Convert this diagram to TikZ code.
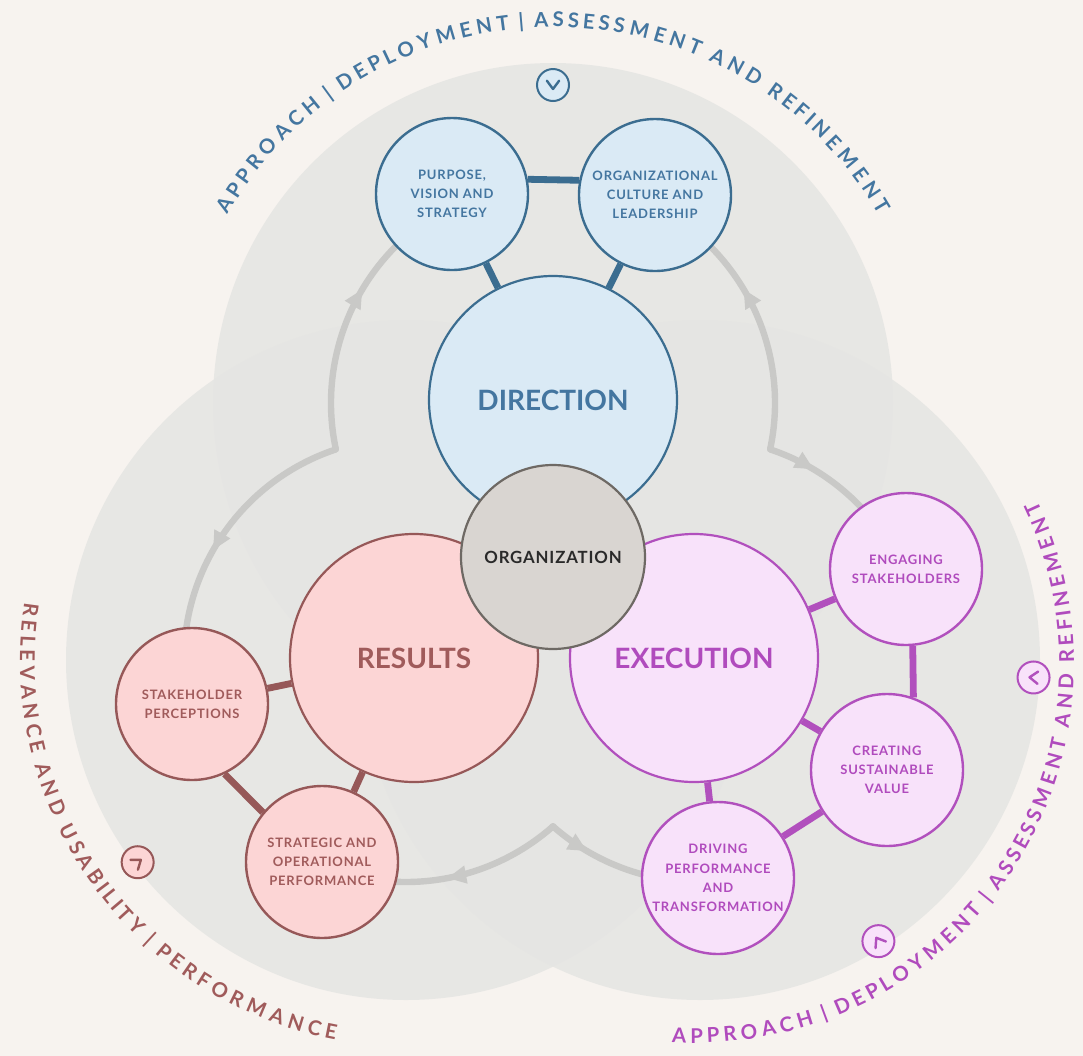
\documentclass[tikz,border=0pt]{standalone}
\usepackage{fontspec}
\setmainfont{Lato}
\usetikzlibrary{positioning,calc,arrows.meta}
\usetikzlibrary{decorations.text,decorations.markings}

\definecolor{paper}{HTML}{F7F3EF}
\definecolor{venngray}{HTML}{E5E5E3}
\definecolor{flowgray}{HTML}{C9C9C7}
\definecolor{dirline}{HTML}{3B6D90}
\definecolor{dirtext}{HTML}{4476A0}
\definecolor{dirfill}{HTML}{DAEAF5}
\definecolor{resline}{HTML}{965858}
\definecolor{restext}{HTML}{A05B5B}
\definecolor{resfill}{HTML}{FCD5D5}
\definecolor{exeline}{HTML}{B150BD}
\definecolor{exetext}{HTML}{B04BBD}
\definecolor{exefill}{HTML}{F8E2FA}
\definecolor{orgline}{HTML}{6E6964}
\definecolor{orgfill}{HTML}{D9D5D1}
\definecolor{orgtext}{HTML}{2A2A2A}

\newcommand{\bigfont}{\fontsize{14}{16}\selectfont\bfseries}
\newcommand{\orgfont}{\fontsize{8.4}{10}\selectfont\bfseries\addfontfeatures{LetterSpace=5}}
\newcommand{\subfont}{\fontsize{6.5}{9.6}\selectfont\bfseries\addfontfeatures{LetterSpace=6}}
\newcommand{\arcfont}{\fontsize{10.2}{10}\selectfont\bfseries}

\begin{document}
\begin{tikzpicture}[x=0.5pt,y=-0.5pt,
    main node/.style={circle,draw,line width=1.1pt,minimum size=124pt,inner sep=0pt,font=\bigfont},
    sub node/.style={circle,draw,line width=1.2pt,minimum size=76pt,inner sep=0pt,align=center,font=\subfont},
    org node/.style={circle,draw=orgline,fill=orgfill,text=orgtext,line width=1.1pt,minimum size=92pt,inner sep=0pt,font=\orgfont},
    blue node/.style={draw=dirline,fill=dirfill,text=dirtext},
    red node/.style={draw=resline,fill=resfill,text=restext},
    purple node/.style={draw=exeline,fill=exefill,text=exetext},
    link/.style={line width=3.4pt},
    flow/.style={draw=flowgray,line width=3.2pt,line cap=round,
        postaction={decorate,decoration={markings,
            mark=at position #1 with {\arrow[flowgray]{Triangle[length=9.5pt,width=8.5pt]}}}}},
    icon node/.style={circle,draw,line width=1pt,minimum size=16pt,inner sep=0pt},
    ring text/.style 2 args={decorate,decoration={text effects along path,
        text format delimiters={[}{]},text={#2},
        text effects/.cd,text along path,fit text to path,
        characters={text=#1,font=\arcfont}}}]

    \useasboundingbox (0,0) rectangle (1083,1056);
    \fill[paper] (0,0) rectangle (1083,1056);

    % three overlapping fields
    \coordinate (topc) at (553,403);
    \coordinate (leftc) at (406,660);
    \coordinate (rightc) at (700,660);
    \foreach \c in {topc,leftc,rightc}{
        \fill[venngray,fill opacity=0.85] (\c) circle[radius=340];
    }

    % grey cycle arrows
    \foreach \c/\a/\b/\p in {topc/168/236/0.63, leftc/251.5/166/0.49,
                             topc/12/-62/0.58, rightc/-71.5/-22/0.25,
                             leftc/48.5/114/0.47, rightc/131.5/84/0.23}{
        \draw[flow=\p] ($(\c)+(\a:222)$) arc[start angle=\a, end angle=\b, radius=222];
    }

    % ring labels
    \path[ring text={dirtext}{APPROACH | DEPLOYMENT | ASSESSMENT AND REFINEMENT}]
        ($(topc)+(-150:376)$) arc[start angle=-150, end angle=-30, radius=376];
    \path[ring text={restext}{RELEVANCE AND USABILITY | PERFORMANCE}]
        ($(leftc)+(188.6:386)$) arc[start angle=188.6, end angle=100.6, radius=386];
    \coordinate (rightring) at (695,664);
    \path[ring text={exetext}{APPROACH | DEPLOYMENT | ASSESSMENT AND REFINEMENT}]
        ($(rightring)+(93.5:379)$) arc[start angle=93.5, end angle=-25.5, radius=379];

    % chevron marks on the rings
    \foreach \c/\a/\r/\col/\fil [count=\k] in {topc/-90/318/dirline/dirfill, rightc/3/334/exeline/exefill,
                                              rightc/57.6/333/exeline/exefill, leftc/143/336/resline/resfill}{
        \node[icon node,draw=\col,fill=\fil] (icon\k) at ($(\c)+(\a:\r)$) {};
        \draw[\col,line width=1.2pt,line cap=round,line join=round]
            ($(icon\k)+(\a+180-125:7.5)$) -- ($(icon\k)+(\a+180:4)$) -- ($(icon\k)+(\a+180+125:7.5)$);
    }

    % main circles
    \node[main node, blue node] (direction) [] at (553,400) {DIRECTION};
    \node[main node, red node] (results) [] at (414,658) {RESULTS};
    \node[main node, purple node] (execution) [] at (694,658) {EXECUTION};
    \node[org node] (organization) [] at (553,557) {ORGANIZATION};

    % satellites
    \node[sub node, blue node] (purpose) [] at (452,194) {PURPOSE,\\VISION AND\\STRATEGY};
    \node[sub node, blue node] (culture) [] at (655,195) {ORGANIZATIONAL\\CULTURE AND\\LEADERSHIP};
    \node[sub node, purple node] (engaging) [] at (906,569) {ENGAGING\\STAKEHOLDERS};
    \node[sub node, purple node] (creating) [] at (887,770) {CREATING\\SUSTAINABLE\\VALUE};
    \node[sub node, purple node] (driving) [] at (718,878) {DRIVING\\PERFORMANCE\\AND\\TRANSFORMATION};
    \node[sub node, red node] (stakeholder) [] at (192,704) {STAKEHOLDER\\PERCEPTIONS};
    \node[sub node, red node] (strategic) [] at (322,862) {STRATEGIC AND\\OPERATIONAL\\PERFORMANCE};

    \path[link, color=dirline]
        (direction) edge (purpose)
        (direction) edge (culture)
        (purpose.11) edge (culture.169)
    ;
    \path[link, color=exeline]
        (execution) edge (engaging)
        (execution) edge (creating)
        (execution) edge (driving)
        (engaging.275) edge (creating.70)
        (creating) edge (driving)
    ;
    \path[link, color=resline]
        (results) edge (stakeholder)
        (results) edge (strategic)
        (stakeholder.-65) edge (strategic.140)
    ;

\end{tikzpicture}
\end{document}
